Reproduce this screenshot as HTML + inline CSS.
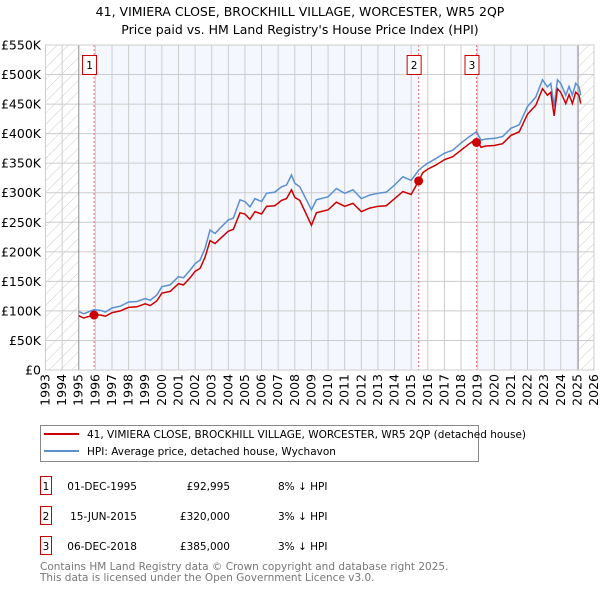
<!DOCTYPE html>
<html><head><meta charset="utf-8"><style>
body{margin:0;background:#fff;font-family:"Liberation Sans","DejaVu Sans",sans-serif;}
svg text{font-family:"DejaVu Sans","Liberation Sans",sans-serif;}
</style></head><body>
<svg id="chart" width="600" height="590" xmlns="http://www.w3.org/2000/svg">
<defs><pattern id="hatch" patternUnits="userSpaceOnUse" width="8" height="8" patternTransform="rotate(45)"><line x1="0" y1="0" x2="0" y2="8" stroke="#ccc" stroke-width="1"/></pattern></defs>
<text x="300" y="16" text-anchor="middle" font-size="12.5">41, VIMIERA CLOSE, BROCKHILL VILLAGE, WORCESTER, WR5 2QP</text>
<text x="300" y="34" text-anchor="middle" font-size="12.5">Price paid vs. HM Land Registry's House Price Index (HPI)</text>
<g id="plot"></g>
<g>
<rect x="40.5" y="425.5" width="438" height="36" fill="#fff" stroke="#888"/>
<line x1="44" y1="434" x2="79" y2="434" stroke="#cc0000" stroke-width="2"/>
<text x="87" y="438" font-size="10.5">41, VIMIERA CLOSE, BROCKHILL VILLAGE, WORCESTER, WR5 2QP (detached house)</text>
<line x1="44" y1="451" x2="79" y2="451" stroke="#5b8fd0" stroke-width="2"/>
<text x="87" y="455" font-size="10.5">HPI: Average price, detached house, Wychavon</text>
</g>
<g font-size="10.5">
<rect x="40.5" y="476.5" width="11" height="18" fill="#fff" stroke="#cc0000"/><text x="46" y="490" text-anchor="middle">1</text>
<text x="137" y="490" text-anchor="end">01-DEC-1995</text><text x="230" y="490" text-anchor="end">£92,995</text><text x="278" y="490">8% ↓ HPI</text>
<rect x="40.5" y="506.5" width="11" height="18" fill="#fff" stroke="#cc0000"/><text x="46" y="520" text-anchor="middle">2</text>
<text x="137" y="520" text-anchor="end">15-JUN-2015</text><text x="230" y="520" text-anchor="end">£320,000</text><text x="278" y="520">3% ↓ HPI</text>
<rect x="40.5" y="536.5" width="11" height="18" fill="#fff" stroke="#cc0000"/><text x="46" y="550" text-anchor="middle">3</text>
<text x="137" y="550" text-anchor="end">06-DEC-2018</text><text x="230" y="550" text-anchor="end">£385,000</text><text x="278" y="550">3% ↓ HPI</text>
</g>
<text x="40" y="570" font-size="10.5" fill="#777">Contains HM Land Registry data © Crown copyright and database right 2025.</text>
<text x="40" y="581" font-size="10.5" fill="#777">This data is licensed under the Open Government Licence v3.0.</text>
</svg>
<script>
const dates=[1995.0,1995.3,1995.9,1996.3,1996.6,1997,1997.5,1998,1998.5,1999,1999.3,1999.7,2000,2000.5,2001,2001.3,2001.7,2002,2002.3,2002.6,2002.9,2003.2,2003.5,2004,2004.3,2004.7,2005,2005.3,2005.6,2006,2006.3,2006.8,2007.2,2007.5,2007.8,2008.0,2008.3,2009.0,2009.3,2010,2010.5,2011,2011.5,2012,2012.5,2013,2013.5,2014,2014.5,2015,2015.45,2015.7,2016,2016.5,2017,2017.5,2018,2018.5,2018.93,2019.2,2019.5,2020,2020.5,2021,2021.5,2022,2022.5,2022.9,2023.2,2023.4,2023.6,2023.8,2024,2024.3,2024.5,2024.7,2024.9,2025.1,2025.2];
const hpiValues=[99,95,102,101,98,105,108,115,116,121,118,127,141,144,158,156,169,180,186,206,237,231,240,254,257,288,285,276,290,285,299,301,310,313,330,316,310,271,288,293,307,299,305,290,296,299,301,313,327,321,338,344,350,358,367,372,384,395,403,389,391,392,395,409,415,446,462,491,479,485,446,491,485,465,480,465,485,479,465];
const priceValues=[92,88,93,93,91,97,100,106,107,112,109,117,130,133,146,144,156,167,172,191,219,214,222,235,238,266,264,255,268,264,277,278,287,290,305,292,287,245,266,271,284,277,282,268,274,277,278,290,302,297,320,334,340,347,356,361,372,383,391,377,379,380,383,397,403,433,448,476,465,470,430,476,470,451,466,451,470,465,451];
const saleDates=[1995.92,2015.45,2018.93];
const salePrices=[92.995,320,385];
const saleLabels=["1","2","3"];
const yTicks=[0,50,100,150,200,250,300,350,400,450,500,550];
const yTickLabels=["£0","£50K","£100K","£150K","£200K","£250K","£300K","£350K","£400K","£450K","£500K","£550K"];
const xYears=[1993,1994,1995,1996,1997,1998,1999,2000,2001,2002,2003,2004,2005,2006,2007,2008,2009,2010,2011,2012,2013,2014,2015,2016,2017,2018,2019,2020,2021,2022,2023,2024,2025,2026];

const NS="http://www.w3.org/2000/svg";
const X0=45.5,X1=594,Y0=370,Y1=45;
const xS=v=>X0+(v-1993)/(2026-1993)*(X1-X0);
const yS=v=>Y0-v/550*(Y0-Y1);
const g=document.getElementById('plot');
function mk(t,a){const e=document.createElementNS(NS,t);for(const k in a)e.setAttribute(k,a[k]);g.appendChild(e);return e;}
let e;
e=mk('rect',{x:X0,y:Y1,width:X1-X0,height:Y0-Y1,fill:'#fff'});


e=mk('rect',{x:xS(saleDates[0]),y:Y1,width:xS(saleDates[1])-xS(saleDates[0]),height:Y0-Y1,fill:'#f4f7fe'});


e=mk('rect',{x:xS(saleDates[2]),y:Y1,width:xS(2025.05)-xS(saleDates[2]),height:Y0-Y1,fill:'#f4f7fe'});


e=mk('rect',{x:X0,y:Y1,width:xS(1995)-X0,height:Y0-Y1,fill:'url(#hatch)'});


e=mk('rect',{x:xS(2025.05),y:Y1,width:X1-xS(2025.05),height:Y0-Y1,fill:'url(#hatch)'});


xYears.forEach(yr=>{
 e=mk('line',{x1:xS(yr),x2:xS(yr),y1:Y1,y2:Y0,stroke:'#cccccc','stroke-width':1});
 
 
 const x=xS(yr)+4;
 e=mk('text',{x:x,y:374,'font-size':12.5,'text-anchor':'end',transform:`rotate(-90 ${x} 374)`});
 e.textContent=yr;
 
 
});
yTicks.forEach((v,i)=>{
 e=mk('line',{x1:X0,x2:X1,y1:yS(v),y2:yS(v),stroke:'#cccccc','stroke-width':1});
 
 
 e=mk('text',{x:41,y:yS(v)+4.5,'font-size':12.5,'text-anchor':'end'});
 e.textContent=yTickLabels[i];
 
 
});
e=mk('line',{x1:xS(1995),x2:xS(1995),y1:Y1,y2:Y0,stroke:'#999','stroke-width':1});


e=mk('line',{x1:xS(2025.05),x2:xS(2025.05),y1:Y1,y2:Y0,stroke:'#999','stroke-width':1});


saleDates.forEach((d,i)=>{
 e=mk('line',{x1:xS(d),x2:xS(d),y1:Y1,y2:Y0,stroke:'#f07070','stroke-width':1,'stroke-dasharray':'2,2'});
 
 
});
e=mk('polyline',{points:dates.map((d,i)=>xS(d)+','+yS(hpiValues[i])).join(' '),fill:'none',stroke:'#5b8fd0','stroke-width':1.5});


e=mk('polyline',{points:dates.map((d,i)=>xS(d)+','+yS(priceValues[i])).join(' '),fill:'none',stroke:'#cc0000','stroke-width':1.5});


saleDates.forEach((d,i)=>{
 e=mk('circle',{cx:xS(d),cy:yS(salePrices[i]),r:4.5,fill:'#cc0000'});
 
 
 e=mk('rect',{x:xS(d)-11.5,y:55.5,width:14,height:19,fill:'#fff',stroke:'#cc0000'});
 
 
 e=mk('text',{x:xS(d)-4.5,y:69,'font-size':10.5,'text-anchor':'middle'});
 e.textContent=saleLabels[i];
 
 
});
e=mk('rect',{x:X0,y:Y1,width:X1-X0,height:Y0-Y1,fill:'none',stroke:'#cccccc'});


</script>
</body></html>
